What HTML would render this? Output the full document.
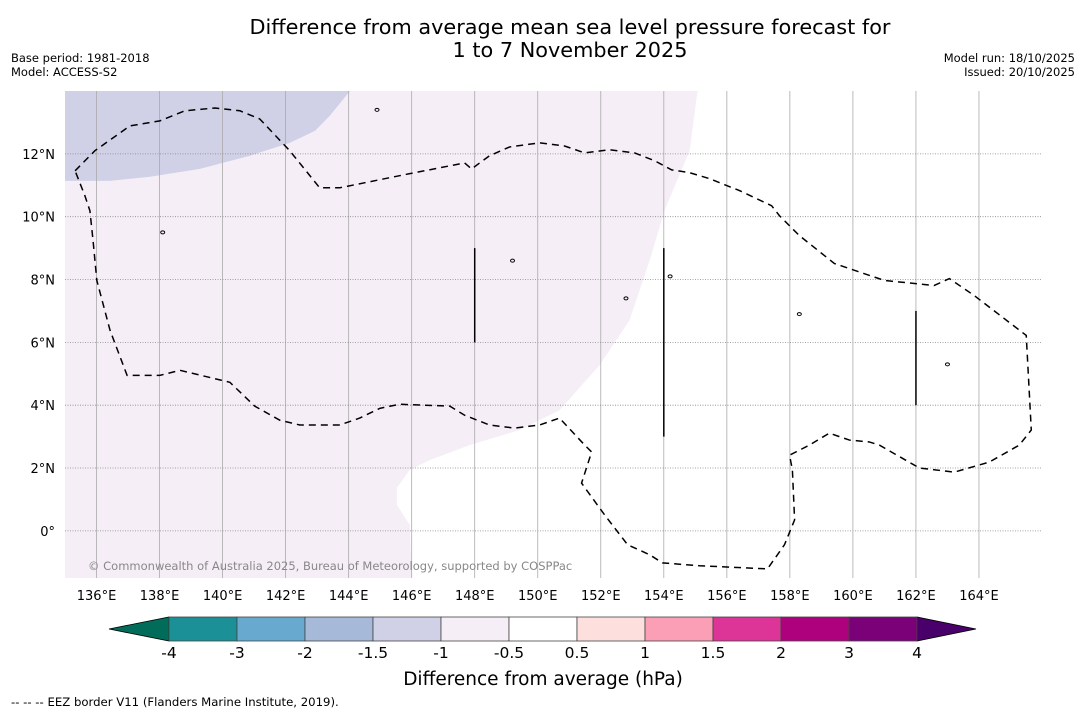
<!DOCTYPE html>
<html><head><meta charset="utf-8">
<style>
body{margin:0;background:#fff;font-family:"DejaVu Sans","Liberation Sans",sans-serif;}
svg{display:block}
</style></head>
<body>
<svg id="s" width="1085" height="713" font-family="DejaVu Sans, Liberation Sans, sans-serif">
<text x="570" y="34" font-size="20.8" text-anchor="middle">Difference from average mean sea level pressure forecast for</text>
<text x="570" y="57" font-size="20.8" text-anchor="middle">1 to 7 November 2025</text>
<text x="11" y="62" font-size="11.5">Base period: 1981-2018</text>
<text x="11" y="76" font-size="11.5">Model: ACCESS-S2</text>
<text x="1075" y="62" font-size="11.5" text-anchor="end">Model run: 18/10/2025</text>
<text x="1075" y="76" font-size="11.5" text-anchor="end">Issued: 20/10/2025</text>
<text x="11" y="706" font-size="11.7">--  --  -- EEZ border V11 (Flanders Marine Institute, 2019).</text>
<text x="543" y="685" font-size="18.5" text-anchor="middle">Difference from average (hPa)</text>
</svg>
<script>
const lonMin=135, lonMax=166, latMin=-1.5, latMax=14;
const X0=65, X1=1042, Y0=91, Y1=578;
const lonTicks=[136,138,140,142,144,146,148,150,152,154,156,158,160,162,164];
const latTicks=[0,2,4,6,8,10,12];
const purpleLon=[155.07,154.82,154.02,153.55,152.91,151.96,150.69,149.43,147.84,146.57,145.94,145.53,145.53,145.94,146.0];
const purpleLat=[14,12.10,10.19,8.60,6.70,5.27,3.84,3.21,2.73,2.25,1.94,1.37,0.83,0.19,-1.5];
const blueLon=[144.04,143.40,142.93,142.13,140.87,139.28,137.70,136.43,135];
const blueLat=[14,13.21,12.73,12.35,11.94,11.52,11.27,11.14,11.14];
const eezLon=[135.32,135.95,137.06,138.01,138.80,139.76,140.55,141.18,142.13,143.08,143.72,145.94,147.68,147.90,148.47,149.11,150.06,150.85,151.49,152.28,153.07,153.71,154.25,154.82,155.45,156.40,157.42,157.67,158.30,159.41,161.00,162.58,163.06,163.85,165.50,165.66,165.28,164.33,163.22,162.11,160.84,160.52,159.89,159.25,158.62,157.99,158.08,158.15,157.83,157.29,155.13,153.96,153.55,152.85,152.12,151.39,151.71,151.49,150.69,150.06,149.27,148.47,147.68,147.21,145.62,144.99,144.35,143.72,142.45,141.82,141.02,140.23,138.65,138.01,136.97,136.43,136.01,135.89,135.79,135.63,135.32];
const eezLat=[11.46,12.10,12.89,13.05,13.37,13.46,13.37,13.11,12.10,10.92,10.92,11.37,11.71,11.52,11.94,12.22,12.35,12.25,12.03,12.13,12.03,11.78,11.49,11.40,11.21,10.83,10.35,10.03,9.40,8.51,7.97,7.81,8.03,7.49,6.22,3.21,2.73,2.19,1.87,2.00,2.73,2.83,2.89,3.11,2.73,2.41,1.94,0.35,-0.44,-1.21,-1.11,-1.02,-0.76,-0.44,0.51,1.52,2.51,2.73,3.59,3.37,3.27,3.37,3.68,3.97,4.03,3.90,3.59,3.37,3.37,3.52,3.97,4.73,5.11,4.95,4.95,6.38,7.97,9.24,10.19,10.67,11.46];
const segLon=[148,154,162];
const segTop=[9,9,7];
const segBot=[6,3,4];
const cbLevels=["-4","-3","-2","-1.5","-1","-0.5","0.5","1","1.5","2","3","4"];
const cbColors=["#1b9096","#67a9cf","#a6b9d8","#d0d1e6","#f5eef6","#ffffff","#fde0dd","#fa9fb5","#dd3497","#ae017e","#7a0177"];
const cbLow="#016c59", cbHigh="#49006a";

const NS="http://www.w3.org/2000/svg";
const svg=document.getElementById('s');
const xs=l=>X0+(l-lonMin)/(lonMax-lonMin)*(X1-X0);
const ys=l=>Y1-(l-latMin)/(latMax-latMin)*(Y1-Y0);
function mk(t,a,p){const e=document.createElementNS(NS,t);for(const k in a)e.setAttribute(k,a[k]);(p||svg).appendChild(e);return e;}
const defs=mk('defs',{});
const cp=mk('clipPath',{id:'mapclip'},defs);
mk('rect',{x:X0,y:Y0,width:X1-X0,height:Y1-Y0},cp);
const g=mk('g',{'clip-path':'url(#mapclip)'});


const bg=mk('rect',{x:X0,y:Y0,width:X1-X0,height:Y1-Y0,fill:'#fff'},g);


let d='M'+xs(lonMin)+','+ys(latMax);
purpleLon.forEach((l,i)=>d+=' L'+xs(l)+','+ys(purpleLat[i]));
d+=' L'+xs(lonMin)+','+ys(latMin)+'Z';
const pr=mk('path',{d:d,fill:'#f5eef6'},g);


d='M'+xs(lonMin)+','+ys(latMax);
blueLon.forEach((l,i)=>d+=' L'+xs(l)+','+ys(blueLat[i]));
d+='Z';
const br=mk('path',{d:d,fill:'#d0d1e6'},g);


lonTicks.forEach(l=>{
  const ln=mk('line',{x1:xs(l),x2:xs(l),y1:Y0,y2:Y1,stroke:'#aaa','stroke-width':0.8},g);
  
  
  const t=mk('text',{x:xs(l),y:Y1+22,'font-size':13,'text-anchor':'middle'});
  t.textContent=l+'°E';
  
  
});
latTicks.forEach(l=>{
  const ln=mk('line',{x1:X0,x2:X1,y1:ys(l),y2:ys(l),stroke:'#888','stroke-width':0.8,'stroke-dasharray':'1,1.5'},g);
  
  
  const t=mk('text',{x:X0-10,y:ys(l)+5,'font-size':13,'text-anchor':'end'});
  t.textContent=l===0?'0°':l+'°N';
  
  
});
d='';
eezLon.forEach((l,i)=>d+=(i?' L':'M')+xs(l)+','+ys(eezLat[i]));
const ez=mk('path',{d:d,fill:'none',stroke:'#000','stroke-width':1.5,'stroke-dasharray':'7,5'},g);


segLon.forEach((l,i)=>{
  const s=mk('line',{x1:xs(l),x2:xs(l),y1:ys(segTop[i]),y2:ys(segBot[i]),stroke:'#000','stroke-width':1.5},g);
  
  
});
[[144.9,13.4],[138.1,9.5],[152.8,7.4],[158.3,6.9],[163,5.3],[149.2,8.6],[154.2,8.1]].forEach(p=>{
  const c=mk('ellipse',{cx:xs(p[0]),cy:ys(p[1]),rx:2,ry:1.5,fill:'none',stroke:'#000','stroke-width':1},g);
  
  
});
const cr=mk('text',{x:88,y:570,'font-size':11.5,fill:'#888'});
cr.textContent='© Commonwealth of Australia 2025, Bureau of Meteorology, supported by COSPPac';


const CB0=169, CBW=68, CBY=617, CBH=24;
const lo=mk('polygon',{points:`${CB0},${CBY} ${CB0},${CBY+CBH} 109,${CBY+CBH/2}`,fill:cbLow,stroke:'#000','stroke-width':0.8});


const nB=cbColors.length, CBend=CB0+nB*CBW;
const hi=mk('polygon',{points:`${CBend},${CBY} ${CBend},${CBY+CBH} ${CBend+59},${CBY+CBH/2}`,fill:cbHigh,stroke:'#000','stroke-width':0.8});


cbColors.forEach((c,i)=>{
  const r=mk('rect',{x:CB0+i*CBW,y:CBY,width:CBW,height:CBH,fill:c,stroke:'#444','stroke-width':0.8});
  
  
});
cbLevels.forEach((t,i)=>{
  const e=mk('text',{x:CB0+i*CBW,y:CBY+CBH+17,'font-size':15.5,'text-anchor':'middle'});
  e.textContent=t;
  
  
});
</script>
</body></html>
